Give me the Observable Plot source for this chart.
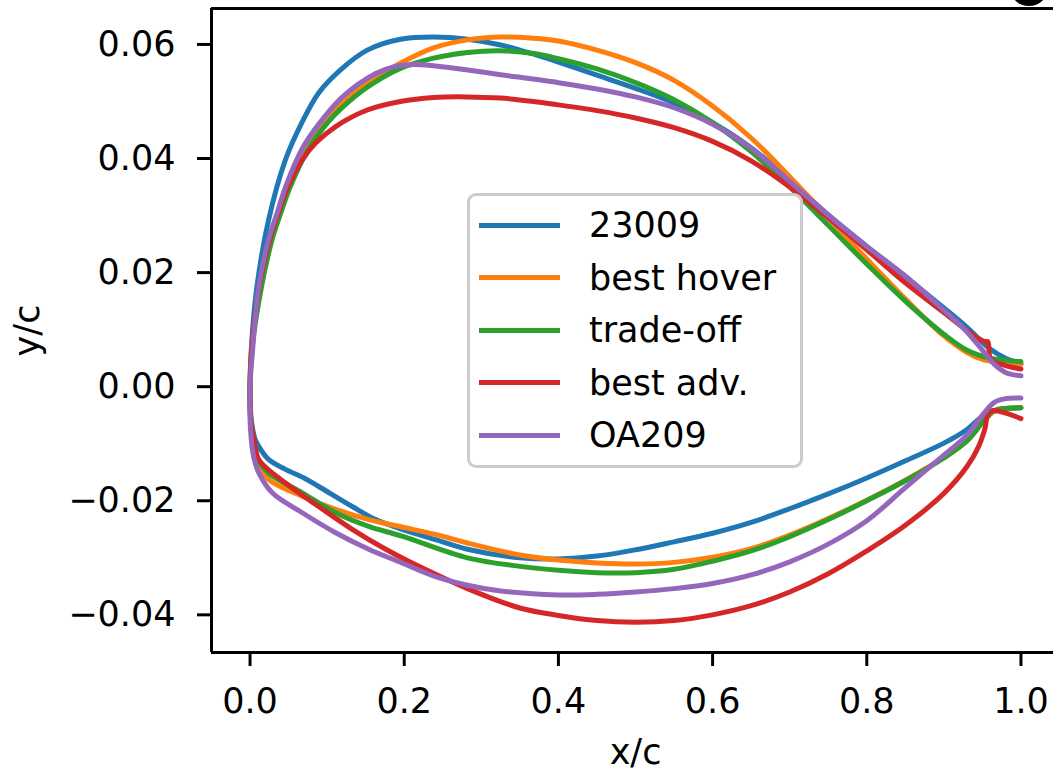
<!DOCTYPE html>
<html>
<head>
<meta charset="utf-8">
<script src="https://cdn.jsdelivr.net/npm/d3@7"></script>
<script src="https://cdn.jsdelivr.net/npm/@observablehq/plot@0.6"></script>
<style>
html, body { margin: 0; padding: 0; background: #fff; overflow: hidden; }
#wrap { position: relative; width: 1053px; height: 771px; font-family: "DejaVu Sans", sans-serif; color: #000; }
#legend { position: absolute; left: 467px; top: 193px; width: 330px; height: 269px; border: 3px solid #cccccc; border-radius: 9px; background: rgba(255,255,255,0.85); }
#legend .row { position: absolute; left: 0; height: 52px; display: flex; align-items: center; }
#legend .sw { position: absolute; left: 9px; width: 81px; height: 5px; }
#legend .lab { position: absolute; left: 119px; font-size: 35px; line-height: 52px; white-space: pre; }
#blob { position: absolute; left: 1010px; top: -30px; width: 38px; height: 36px; border-radius: 50%; background: #000; }
</style>
</head>
<body>
<div id="wrap"></div>
<script>
// ---- data ----
const names = ["23009", "best hover", "trade-off", "best adv.", "OA209"];
const colors = ["#1f77b4", "#ff7f0e", "#2ca02c", "#d62728", "#9467bd"];
const xTicks = [0, 0.2, 0.4, 0.6, 0.8, 1.0];
const yTicks = [-0.04, -0.02, 0, 0.02, 0.04, 0.06];
const xLabel = "x/c";
const yLabel = "y/c";

// upper surfaces, leading edge -> trailing edge, [x/c, y/c]
const upper23009 = [[0,0],[0.002,0.0075],[0.009,0.0176],[0.024,0.0292],[0.046,0.0398],[0.068,0.0465],[0.089,0.0515],[0.117,0.0555],[0.152,0.0590],[0.195,0.0609],[0.238,0.0613],[0.282,0.0609],[0.325,0.0599],[0.368,0.0583],[0.40,0.0569],[0.45,0.0546],[0.50,0.0523],[0.55,0.0497],[0.60,0.0463],[0.65,0.0419],[0.70,0.0362],[0.75,0.0301],[0.80,0.0246],[0.85,0.0193],[0.90,0.0138],[0.93,0.0104],[0.96,0.0066],[0.98,0.0050],[1.0,0.0040]];
const upperHover = [[0,0],[0.002,0.0065],[0.013,0.0176],[0.027,0.0260],[0.038,0.0305],[0.049,0.0350],[0.072,0.0418],[0.095,0.0463],[0.120,0.0497],[0.152,0.0532],[0.195,0.0567],[0.238,0.0594],[0.282,0.0608],[0.325,0.0613],[0.368,0.0611],[0.40,0.0606],[0.45,0.0590],[0.50,0.0568],[0.55,0.0537],[0.60,0.0492],[0.65,0.0436],[0.70,0.0368],[0.75,0.0296],[0.80,0.0224],[0.85,0.0154],[0.90,0.0089],[0.93,0.0060],[0.95,0.0048],[0.975,0.0042],[1.0,0.0040]];
const upperTrade = [[0,0],[0.002,0.0060],[0.015,0.0176],[0.029,0.0260],[0.040,0.0305],[0.052,0.0350],[0.075,0.0415],[0.100,0.0462],[0.120,0.0490],[0.152,0.0525],[0.195,0.0558],[0.238,0.0576],[0.282,0.0586],[0.325,0.0589],[0.368,0.0584],[0.40,0.0575],[0.45,0.0557],[0.50,0.0533],[0.55,0.0503],[0.60,0.0463],[0.65,0.0412],[0.70,0.0350],[0.75,0.0283],[0.80,0.0215],[0.85,0.0150],[0.90,0.0092],[0.93,0.0064],[0.96,0.0050],[1.0,0.0044]];
const upperAdv = [[0,0],[0.002,0.0060],[0.012,0.0176],[0.026,0.0260],[0.037,0.0305],[0.049,0.0350],[0.068,0.0398],[0.085,0.0427],[0.111,0.0456],[0.152,0.0485],[0.195,0.0500],[0.238,0.0507],[0.282,0.0508],[0.325,0.0506],[0.368,0.0500],[0.40,0.0494],[0.45,0.0484],[0.50,0.0471],[0.55,0.0454],[0.60,0.0430],[0.65,0.0396],[0.70,0.0350],[0.75,0.0296],[0.80,0.0240],[0.85,0.0182],[0.90,0.0130],[0.93,0.0098],[0.943,0.0086],[0.953,0.0079],[0.957,0.0079],[0.961,0.0048],[0.980,0.0037],[1.0,0.0031]];
const upperOA209 = [[0,0],[0.003,0.0059],[0.0114,0.0176],[0.0244,0.0260],[0.0353,0.0305],[0.046,0.0350],[0.068,0.0418],[0.089,0.0460],[0.120,0.0508],[0.163,0.0549],[0.190,0.0562],[0.215,0.0565],[0.260,0.0559],[0.325,0.0547],[0.40,0.0533],[0.45,0.0522],[0.50,0.0508],[0.55,0.0489],[0.60,0.0460],[0.65,0.0418],[0.70,0.0360],[0.75,0.0301],[0.80,0.0246],[0.85,0.0194],[0.90,0.0134],[0.93,0.0096],[0.95,0.0064],[0.965,0.0040],[0.98,0.0025],[1.0,0.0019]];

// lower surfaces, leading edge -> trailing edge, [x/c, y/c]
const lower23009 = [[0,0],[0.001,-0.0050],[0.006,-0.0090],[0.0114,-0.0105],[0.0244,-0.0128],[0.046,-0.0145],[0.070,-0.0160],[0.089,-0.0175],[0.1325,-0.0210],[0.163,-0.0233],[0.197,-0.0250],[0.2406,-0.0268],[0.282,-0.0285],[0.35,-0.0300],[0.40,-0.0302],[0.45,-0.0297],[0.50,-0.0286],[0.55,-0.0272],[0.60,-0.0257],[0.65,-0.0238],[0.70,-0.0214],[0.75,-0.0188],[0.80,-0.0160],[0.85,-0.0130],[0.90,-0.0099],[0.93,-0.0075],[0.95,-0.0052],[0.97,-0.0041],[1.0,-0.0037]];
const lowerHover = [[0,0],[0.001,-0.0060],[0.006,-0.0110],[0.013,-0.0140],[0.0244,-0.0163],[0.0677,-0.0192],[0.111,-0.0215],[0.154,-0.0233],[0.197,-0.0246],[0.2406,-0.0259],[0.282,-0.0274],[0.35,-0.0295],[0.40,-0.0304],[0.45,-0.0309],[0.50,-0.0311],[0.55,-0.0308],[0.60,-0.0299],[0.65,-0.0284],[0.70,-0.0260],[0.75,-0.0231],[0.80,-0.0199],[0.85,-0.0164],[0.90,-0.0124],[0.93,-0.0094],[0.95,-0.0063],[0.965,-0.0043],[0.98,-0.0038],[1.0,-0.0037]];
const lowerTrade = [[0,0],[0.001,-0.0060],[0.006,-0.0105],[0.0114,-0.0130],[0.0244,-0.0152],[0.0677,-0.0186],[0.111,-0.0221],[0.154,-0.0245],[0.197,-0.0262],[0.282,-0.0300],[0.35,-0.0315],[0.40,-0.0322],[0.45,-0.0326],[0.50,-0.0326],[0.55,-0.0320],[0.60,-0.0306],[0.65,-0.0288],[0.70,-0.0263],[0.75,-0.0233],[0.80,-0.0200],[0.85,-0.0165],[0.90,-0.0125],[0.93,-0.0095],[0.95,-0.0063],[0.965,-0.0042],[0.98,-0.0038],[1.0,-0.0037]];
const lowerAdv = [[0,0],[0.001,-0.0060],[0.006,-0.0100],[0.0114,-0.0128],[0.046,-0.0169],[0.089,-0.0210],[0.1325,-0.0250],[0.176,-0.0285],[0.219,-0.0315],[0.282,-0.0354],[0.35,-0.0388],[0.40,-0.0401],[0.45,-0.0410],[0.50,-0.0413],[0.55,-0.0410],[0.60,-0.0400],[0.65,-0.0384],[0.70,-0.0360],[0.75,-0.0328],[0.80,-0.0288],[0.85,-0.0243],[0.90,-0.0187],[0.93,-0.0140],[0.945,-0.0105],[0.953,-0.0075],[0.960,-0.0043],[1.0,-0.0056]];
const lowerOA209 = [[0,0],[0.0006,-0.0075],[0.005,-0.0125],[0.0114,-0.0151],[0.0288,-0.0186],[0.0677,-0.0221],[0.111,-0.0256],[0.154,-0.0285],[0.197,-0.0309],[0.2406,-0.0333],[0.282,-0.0348],[0.325,-0.0358],[0.40,-0.0365],[0.45,-0.0364],[0.50,-0.0360],[0.55,-0.0354],[0.60,-0.0345],[0.65,-0.0330],[0.70,-0.0307],[0.75,-0.0276],[0.80,-0.0235],[0.85,-0.0177],[0.90,-0.0120],[0.93,-0.0085],[0.95,-0.0050],[0.965,-0.0028],[0.98,-0.0021],[1.0,-0.0020]];

const uppers = [upper23009, upperHover, upperTrade, upperAdv, upperOA209];
const lowers = [lower23009, lowerHover, lowerTrade, lowerAdv, lowerOA209];

// ---- build ----
const xDomain = [-0.05, 1.0422];
const yDomain = [-0.0466, 0.0663];

// one path per airfoil: upper TE -> LE -> lower TE (Selig order)
const outlines = names.map((name, i) => {
  const up = uppers[i].slice().reverse();
  const lo = lowers[i].slice(1);
  return up.concat(lo).map(([x, y]) => ({x, y, name}));
});

const lineMarks = outlines.map((rows, i) =>
  Plot.line(rows, {x: "x", y: "y", stroke: colors[i], strokeWidth: 5, curve: "catmull-rom", strokeLinejoin: "round"})
);

const chart = Plot.plot({
  width: 1053,
  height: 771,
  marginLeft: 211,
  marginRight: 0,
  marginTop: 8,
  marginBottom: 119,
  style: {fontFamily: "DejaVu Sans, sans-serif", fontSize: "35px", color: "#000", background: "white", overflow: "visible"},
  x: {type: "linear", domain: xDomain},
  y: {type: "linear", domain: yDomain},
  marks: [
    ...lineMarks,
    Plot.ruleX([xDomain[0]], {stroke: "#000", strokeWidth: 3}),
    Plot.ruleY([yDomain[0], yDomain[1]], {stroke: "#000", strokeWidth: 3}),
    Plot.axisX({ticks: xTicks, tickFormat: d3.format(".1f"), tickSize: 14, tickPadding: 22, strokeWidth: 3, label: null, fontSize: 35}),
    Plot.axisY({ticks: yTicks, tickFormat: d3.format(".2f"), tickSize: 14, tickPadding: 22, strokeWidth: 3, label: null, fontSize: 35}),
    Plot.text([xLabel], {frameAnchor: "bottom", dy: 100, dx: 3, fontSize: 35, lineAnchor: "middle", textAnchor: "middle", fill: "#000"}),
    Plot.text([yLabel], {frameAnchor: "left", dx: -184, rotate: -90, fontSize: 35, lineAnchor: "middle", textAnchor: "middle", fill: "#000"})
  ]
});

const wrap = document.getElementById("wrap");
wrap.appendChild(chart);

// legend (matplotlib style box)
const legend = document.createElement("div");
legend.id = "legend";
names.forEach((name, i) => {
  const row = document.createElement("div");
  row.className = "row";
  row.style.top = (3 + i * 52.5) + "px";
  row.style.width = "100%";
  const sw = document.createElement("div");
  sw.className = "sw";
  sw.style.background = colors[i];
  const lab = document.createElement("div");
  lab.className = "lab";
  lab.textContent = name;
  row.appendChild(sw);
  row.appendChild(lab);
  legend.appendChild(row);
});
wrap.appendChild(legend);

const blob = document.createElement("div");
blob.id = "blob";
wrap.appendChild(blob);
</script>
</body>
</html>
